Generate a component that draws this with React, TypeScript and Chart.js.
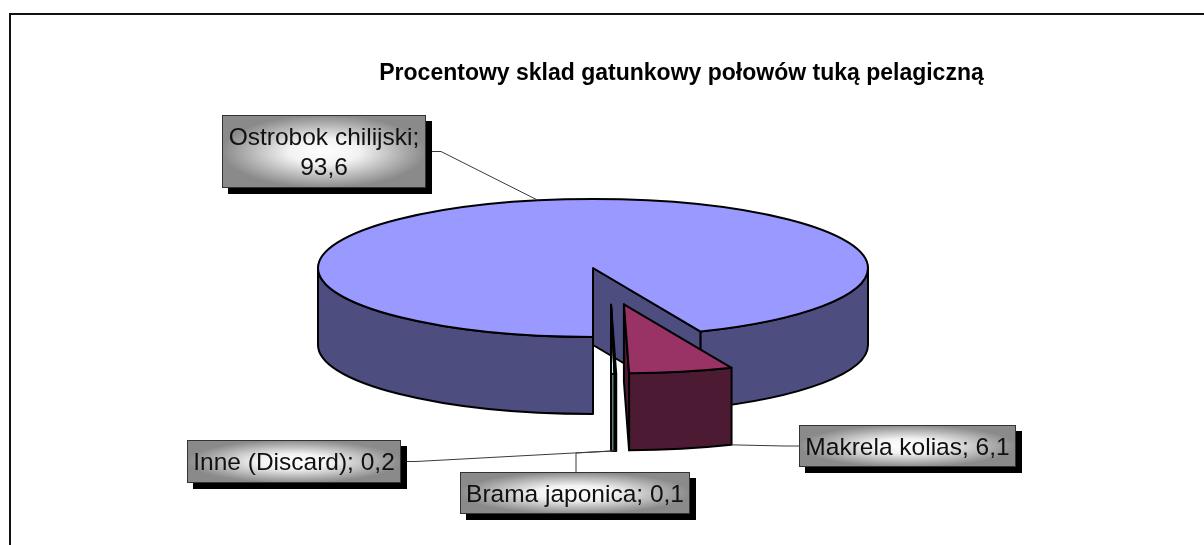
import React, { useEffect, useRef } from 'react';
import { Chart, ArcElement, PieController, Title, layouts } from 'chart.js';

Chart.register(ArcElement, PieController, Title);

// ---- data ----
const titleText = 'Procentowy sklad gatunkowy połowów tuką pelagiczną';
const categories = ['Ostrobok chilijski', 'Makrela kolias', 'Brama japonica', 'Inne (Discard)'];
const shares = [93.6, 6.1, 0.1, 0.2];
const shareLabels = ['93,6', '6,1', '0,1', '0,2'];

// ---- style ----
const topColors = ['#9999FF', '#993366', '#FFFFCC', '#CCFFFF'];
const sideColors = ['#4D4D80', '#4D1A33', '#80805F', '#5F8080'];
const explodeDist = [0, 148, 148, 148];
const explodeDirDeg: (number | null)[] = [null, null, 83, 83]; // null = along slice bisector
const SQUASH = 0.251;
const DEPTH = 77;

const labelBoxes = [
  { x: 222, y: 115, w: 204, h: 73, wrap: true, side: 'right', anchor: 'topMid' },
  { x: 799, y: 425, w: 217, h: 42, wrap: false, side: 'left', anchor: 'bottomStart' },
  { x: 460, y: 472, w: 230, h: 42, wrap: false, side: 'top', anchor: 'bottomMid', stubX: 116 },
  { x: 187, y: 440, w: 214, h: 43, wrap: false, side: 'right', anchor: 'bottomMid' },
];

function geom(chart: any, arc: any) {
  const ca = chart.chartArea;
  const cy0 = (ca.top + ca.bottom) / 2;
  const r = arc.outerRadius;
  return { sx: arc.x, sy: cy0 + (arc.y - cy0) * SQUASH, r, ry: r * SQUASH };
}

const spacer = {
  id: 'spacer',
  start(chart: any, _args: any, opts: any) {
    const box: any = {
      position: 'right',
      weight: 0,
      fullSize: false,
      options: { stack: undefined, stackWeight: 1 },
      left: 0, right: 0, top: 0, bottom: 0, width: 0, height: 0,
      isHorizontal() { return false; },
      update(_mw: number, mh: number) { this.width = (opts && opts.width) || 177; this.height = mh; },
      draw() {},
    };
    layouts.addBox(chart, box);
  },
};

function drawWalls(ctx: CanvasRenderingContext2D, g: any, s: number, e: number, fill: string) {
  ctx.fillStyle = fill;
  ctx.strokeStyle = '#000';
  ctx.lineWidth = 2;
  ctx.lineJoin = 'round';
  const pt = (a: number, dz: number) => [g.sx + g.r * Math.cos(a), g.sy + g.ry * Math.sin(a) + dz];
  const faces: number[] = [];
  if (Math.cos(s) < -1e-6) faces.push(s);
  if (Math.cos(e) > 1e-6) faces.push(e);
  for (const a of faces) {
    const p = pt(a, 0);
    const q = pt(a, DEPTH);
    ctx.beginPath();
    ctx.moveTo(g.sx, g.sy);
    ctx.lineTo(p[0], p[1]);
    ctx.lineTo(q[0], q[1]);
    ctx.lineTo(g.sx, g.sy + DEPTH);
    ctx.closePath();
    ctx.fill();
    ctx.stroke();
  }
  for (let n = -2; n <= 2; n++) {
    const a = Math.max(s, 2 * Math.PI * n);
    const b = Math.min(e, 2 * Math.PI * n + Math.PI);
    if (b - a <= 1e-9) continue;
    ctx.beginPath();
    ctx.ellipse(g.sx, g.sy, g.r, g.ry, 0, a, b, false);
    const q = pt(b, DEPTH);
    ctx.lineTo(q[0], q[1]);
    ctx.ellipse(g.sx, g.sy + DEPTH, g.r, g.ry, 0, b, a, true);
    ctx.closePath();
    ctx.fill();
    ctx.stroke();
  }
}

const pie3d = {
  id: 'pie3d',
  afterDatasetsUpdate(chart: any) {
    const meta = chart.getDatasetMeta(0);
    meta.data.forEach((arc: any, i: number) => {
      const ex = explodeDist[i] || 0;
      const d = explodeDirDeg[i];
      const dir = d == null ? (arc.startAngle + arc.endAngle) / 2 : (d * Math.PI) / 180;
      arc.x += Math.cos(dir) * ex;
      arc.y += Math.sin(dir) * ex;
    });
  },
  beforeDatasetsDraw(chart: any) {
    const ctx = chart.ctx;
    const ca = chart.chartArea;
    const cy0 = (ca.top + ca.bottom) / 2;
    const meta = chart.getDatasetMeta(0);
    const order = meta.data
      .map((_: any, i: number) => i)
      .sort((a: number, b: number) => {
        const ma = (meta.data[a].startAngle + meta.data[a].endAngle) / 2;
        const mb = (meta.data[b].startAngle + meta.data[b].endAngle) / 2;
        return Math.sin(ma) - Math.sin(mb);
      });
    ctx.save();
    for (const i of order) {
      const arc = meta.data[i];
      drawWalls(ctx, geom(chart, arc), arc.startAngle, arc.endAngle, sideColors[i]);
    }
    ctx.restore();
    ctx.save();
    ctx.translate(0, cy0);
    ctx.scale(1, SQUASH);
    ctx.translate(0, -cy0);
  },
  afterDatasetsDraw(chart: any) {
    const ctx = chart.ctx;
    ctx.restore();
    const meta = chart.getDatasetMeta(0);
    ctx.save();
    ctx.strokeStyle = '#000';
    ctx.lineWidth = 2;
    ctx.lineJoin = 'round';
    meta.data.forEach((arc: any) => {
      const g = geom(chart, arc);
      ctx.beginPath();
      ctx.moveTo(g.sx, g.sy);
      ctx.ellipse(g.sx, g.sy, g.r, g.ry, 0, arc.startAngle, arc.endAngle, false);
      ctx.closePath();
      ctx.stroke();
    });
    ctx.restore();
  },
};

const sliceLabels = {
  id: 'sliceLabels',
  afterDraw(chart: any) {
    const ctx = chart.ctx;
    const meta = chart.getDatasetMeta(0);
    ctx.save();
    labelBoxes.forEach((b: any, i: number) => {
      const arc = meta.data[i];
      const g = geom(chart, arc);
      const mid = (arc.startAngle + arc.endAngle) / 2;
      let a: number[];
      if (b.anchor === 'topMid') a = [g.sx + g.r * Math.cos(mid), g.sy + g.ry * Math.sin(mid)];
      else if (b.anchor === 'bottomStart')
        a = [g.sx + g.r * Math.cos(arc.startAngle), g.sy + g.ry * Math.sin(arc.startAngle) + DEPTH];
      else a = [g.sx + g.r * Math.cos(mid), g.sy + g.ry * Math.sin(mid) + DEPTH];
      let p0: number[];
      let p1: number[];
      if (b.side === 'right') { p0 = [b.x + b.w, b.y + b.h / 2]; p1 = [p0[0] + 15, p0[1]]; }
      else if (b.side === 'left') { p0 = [b.x, b.y + b.h / 2]; p1 = [p0[0] - 15, p0[1]]; }
      else { p0 = [b.x + b.stubX, b.y]; p1 = [p0[0], p0[1] - 19]; }
      ctx.strokeStyle = '#3a3a3a';
      ctx.lineWidth = 1;
      ctx.beginPath();
      ctx.moveTo(p0[0], p0[1]);
      ctx.lineTo(p1[0], p1[1]);
      ctx.lineTo(a[0], a[1]);
      ctx.stroke();
      // shadow
      ctx.fillStyle = '#000';
      ctx.fillRect(b.x + 6, b.y + 6, b.w, b.h);
      // gradient box
      const cx = b.x + b.w / 2;
      const cy = b.y + b.h / 2;
      ctx.save();
      ctx.beginPath();
      ctx.rect(b.x, b.y, b.w, b.h);
      ctx.clip();
      ctx.translate(cx, cy);
      ctx.scale(b.w / 2, b.h / 2);
      const grd = ctx.createRadialGradient(0, 0, 0, 0, 0, 1.0);
      grd.addColorStop(0, '#ffffff');
      grd.addColorStop(0.35, '#f2f2f2');
      grd.addColorStop(0.8, '#a9a9a9');
      grd.addColorStop(1, '#8a8a8a');
      ctx.fillStyle = grd;
      ctx.fillRect(-1, -1, 2, 2);
      ctx.restore();
      ctx.strokeStyle = '#333';
      ctx.lineWidth = 1;
      ctx.strokeRect(b.x + 0.5, b.y + 0.5, b.w - 1, b.h - 1);
      // text
      const lines = b.wrap ? [categories[i] + ';', shareLabels[i]] : [categories[i] + '; ' + shareLabels[i]];
      ctx.font = '24.5px "Liberation Sans", Arial, sans-serif';
      ctx.fillStyle = '#111';
      ctx.textAlign = 'center';
      ctx.textBaseline = 'alphabetic';
      const lh = 30;
      const y0 = cy - ((lines.length - 1) * lh) / 2 + 8.8;
      lines.forEach((t, j) => ctx.fillText(t, cx, y0 + j * lh));
    });
    ctx.restore();
  },
};

export default function App() {
  const ref = useRef<HTMLCanvasElement>(null);
  useEffect(() => {
    if (!ref.current) return;
    const chart = new Chart(ref.current, {
      type: 'pie',
      data: {
        labels: categories,
        datasets: [
          {
            data: shares,
            backgroundColor: topColors,
            borderWidth: 0,
            hoverOffset: 0,
            clip: false,
          } as any,
        ],
      },
      options: {
        responsive: false,
        animation: false,
        events: [],
        rotation: 180,
        radius: 275,
        layout: { padding: { left: 159, right: 0, top: 0, bottom: 96.8 } },
        plugins: {
          legend: { display: false },
          tooltip: { enabled: false },
          title: {
            display: true,
            text: titleText,
            color: '#000',
            font: { family: '"Liberation Sans", Arial, sans-serif', size: 23, weight: 'bold' },
            padding: { top: 60.2, bottom: 0 },
          },
          spacer: { width: 177 },
        } as any,
      } as any,
      plugins: [spacer, pie3d, sliceLabels],
    });
    return () => chart.destroy();
  }, []);
  return (
    <div style={{ position: 'absolute', left: 0, top: 0, width: 1204, height: 545, background: '#fff', overflow: 'hidden' }}>
      <div
        style={{
          position: 'absolute', left: 9, top: 13, width: 1300, height: 700,
          borderTop: '2px solid #111', borderLeft: '2px solid #111',
        }}
      />
      <canvas ref={ref} width={1204} height={545} style={{ position: 'absolute', left: 0, top: 0, display: 'block' }} />
    </div>
  );
}
